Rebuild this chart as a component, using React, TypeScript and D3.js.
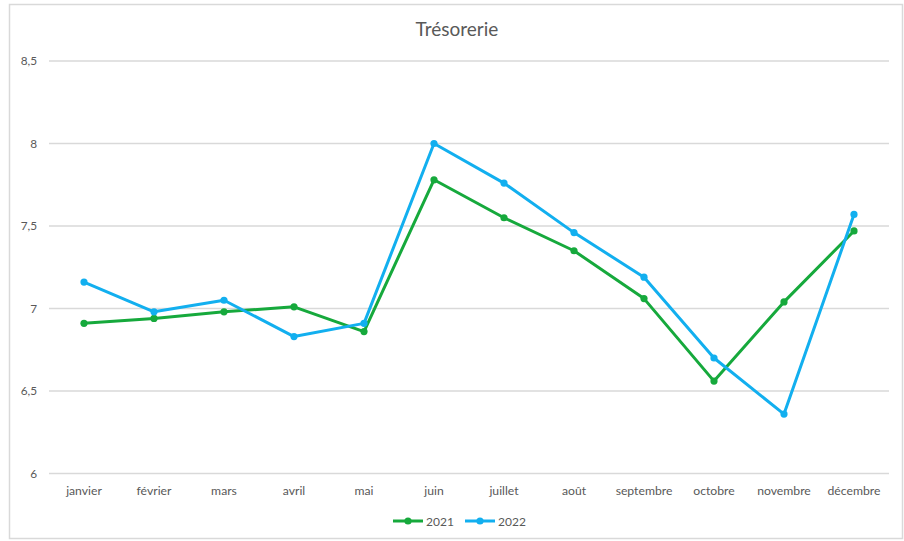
import React from "react";
import * as d3 from "d3";

const months = ["janvier", "février", "mars", "avril", "mai", "juin", "juillet", "août", "septembre", "octobre", "novembre", "décembre"];
const values2021 = [6.91, 6.94, 6.98, 7.01, 6.86, 7.78, 7.55, 7.35, 7.06, 6.56, 7.04, 7.47];
const values2022 = [7.16, 6.98, 7.05, 6.83, 6.91, 8.0, 7.76, 7.46, 7.19, 6.7, 6.36, 7.57];
const yTicks = [6, 6.5, 7, 7.5, 8, 8.5];
const seriesNames = ["2021", "2022"];
const seriesColors = ["#16A93C", "#12AFEF"];

const W = 904;
const H = 541;
const FONT = "Lato, 'Open Sans', sans-serif";

export default function App() {
  const x = d3.scaleBand<string>().domain(months).range([49, 889]);
  const y = d3.scaleLinear().domain([6, 8.5]).range([473.5, 61]);
  const line = d3
    .line<number>()
    .x((_, i) => (x(months[i]) as number) + x.bandwidth() / 2)
    .y((d) => y(d));
  const fmt = (v: number) => String(v).replace(".", ",");
  const series = [values2021, values2022];

  return (
    <svg width={W} height={H} style={{ position: "fixed", left: 0, top: 0, background: "#fff" }}>
      <rect x={9.5} y={4.5} width={893} height={534} fill="#fff" stroke="#d9d9d9" strokeWidth={1.5} />
      <text x={457} y={36} textAnchor="middle" fontFamily={FONT} fontSize={19} fill="#595959">
        Trésorerie
      </text>
      {yTicks.map((t) => (
        <g key={t}>
          <line x1={49} x2={889} y1={y(t)} y2={y(t)} stroke="#d9d9d9" strokeWidth={1.3} />
          <text x={37} y={y(t) + 4} textAnchor="end" fontFamily={FONT} fontSize={11.8} fill="#595959">
            {fmt(t)}
          </text>
        </g>
      ))}
      {months.map((m) => (
        <text
          key={m}
          x={(x(m) as number) + x.bandwidth() / 2}
          y={495}
          textAnchor="middle"
          fontFamily={FONT}
          fontSize={12.2}
          fill="#595959"
        >
          {m}
        </text>
      ))}
      {series.map((vals, si) => (
        <g key={si}>
          <path d={line(vals) || ""} fill="none" stroke={seriesColors[si]} strokeWidth={3} strokeLinejoin="round" />
          {vals.map((v, i) => (
            <circle
              key={i}
              cx={(x(months[i]) as number) + x.bandwidth() / 2}
              cy={y(v)}
              r={3.6}
              fill={seriesColors[si]}
            />
          ))}
        </g>
      ))}
      {seriesNames.map((n, si) => {
        const lx = si === 0 ? 393 : 465;
        return (
          <g key={n}>
            <line x1={lx} x2={lx + 30} y1={521} y2={521} stroke={seriesColors[si]} strokeWidth={3} />
            <circle cx={lx + 15} cy={521} r={3.6} fill={seriesColors[si]} />
            <text x={lx + 33} y={525.5} fontFamily={FONT} fontSize={12} fill="#595959">
              {n}
            </text>
          </g>
        );
      })}
    </svg>
  );
}
